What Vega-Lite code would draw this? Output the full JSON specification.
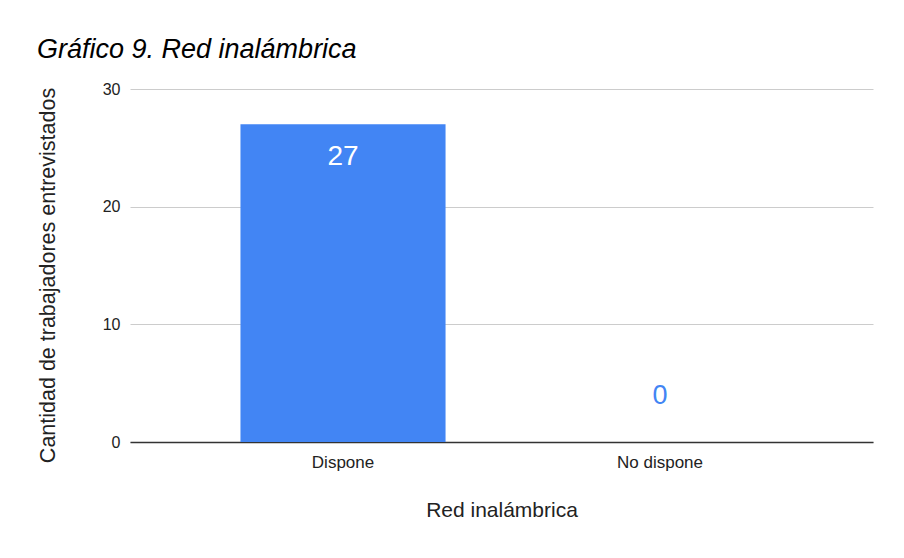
{
  "$schema": "https://vega.github.io/schema/vega-lite/v6.json",
  "autosize": {"type": "none"},
  "padding": {"left": 130, "top": 89, "right": 31, "bottom": 116},
  "width": 743,
  "height": 353,
  "background": "white",
  "title": {
    "text": "Gráfico 9. Red inalámbrica",
    "anchor": "start",
    "frame": "group",
    "dx": -93,
    "offset": 17,
    "font": "Liberation Sans",
    "fontSize": 27,
    "fontStyle": "italic",
    "fontWeight": "normal",
    "color": "#000000"
  },
  "config": {
    "view": {"stroke": null},
    "font": "Liberation Sans"
  },
  "data": {
    "values": [
      {"categoria": "Dispone", "cantidad": 27},
      {"categoria": "No dispone", "cantidad": 0}
    ]
  },
  "encoding": {
    "x": {
      "field": "categoria",
      "type": "nominal",
      "sort": null,
      "scale": {"paddingInner": 0.353, "paddingOuter": 0.3485},
      "axis": {
        "title": "Red inalámbrica",
        "labelAngle": 0,
        "labelFontSize": 17,
        "labelColor": "#222222",
        "labelPadding": 12,
        "ticks": false,
        "domainColor": "#333333",
        "domainWidth": 1.5,
        "titleFontSize": 21,
        "titleFontWeight": "normal",
        "titleColor": "#222222",
        "titlePadding": 29
      }
    },
    "y": {
      "field": "cantidad",
      "type": "quantitative",
      "scale": {"domain": [0, 30], "nice": false},
      "axis": {
        "title": "Cantidad de trabajadores entrevistados",
        "values": [0, 10, 20, 30],
        "labelFontSize": 16,
        "labelColor": "#222222",
        "labelPadding": 10,
        "ticks": false,
        "domain": false,
        "gridColor": "#cccccc",
        "gridWidth": 1,
        "titleFontSize": 21.5,
        "titleFontWeight": "normal",
        "titleColor": "#222222",
        "titlePadding": 43,
        "titleY": 186
      }
    }
  },
  "layer": [
    {
      "mark": {"type": "bar", "color": "#4285F4"}
    },
    {
      "transform": [{"filter": "datum.cantidad > 0"}],
      "mark": {"type": "text", "color": "white", "fontSize": 28, "baseline": "middle", "dy": 33},
      "encoding": {"text": {"field": "cantidad", "type": "quantitative"}}
    },
    {
      "transform": [{"filter": "datum.cantidad == 0"}],
      "mark": {"type": "text", "color": "#4285F4", "fontSize": 27, "baseline": "middle", "dy": -46},
      "encoding": {"text": {"field": "cantidad", "type": "quantitative"}}
    }
  ]
}
